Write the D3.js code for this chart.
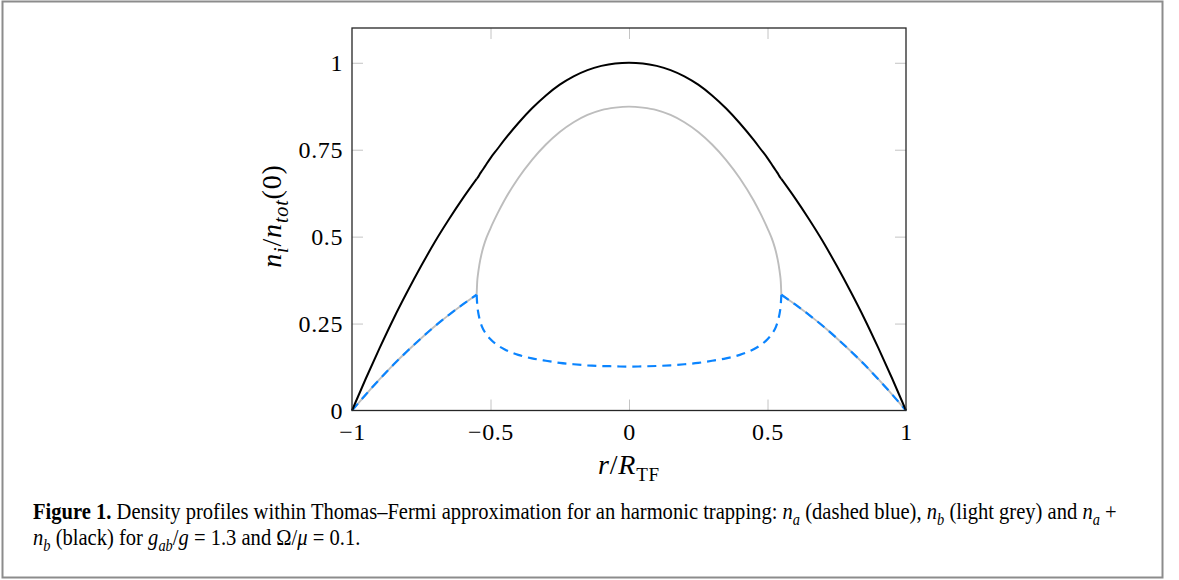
<!DOCTYPE html>
<html>
<head>
<meta charset="utf-8">
<script src="https://cdn.jsdelivr.net/npm/d3@7"></script>
<style>
  body { margin: 0; background: #fff; }
  svg { display: block; }
</style>
</head>
<body>
<svg id="fig" width="1179" height="580"></svg>
<script>
// Radial coordinate r / R_TF, shared by all three density profiles
const r = [
  -1, -0.95, -0.9, -0.85, -0.8, -0.75, -0.7, -0.65, -0.6, -0.55,
  -0.548, -0.545, -0.54, -0.53, -0.52, -0.5, -0.475, -0.45, -0.4, -0.35,
  -0.3, -0.25, -0.2, -0.15, -0.1, -0.05, 0,
  0.05, 0.1, 0.15, 0.2, 0.25, 0.3, 0.35, 0.4, 0.45, 0.475,
  0.5, 0.52, 0.53, 0.54, 0.545, 0.548, 0.55,
  0.6, 0.65, 0.7, 0.75, 0.8, 0.85, 0.9, 0.95, 1
];

// n_a / n_tot(0)  (dashed blue)
const nA = [
  0, 0.046, 0.090, 0.132, 0.171, 0.208, 0.243, 0.275, 0.305, 0.333,
  0.305, 0.285, 0.265, 0.240, 0.225, 0.205, 0.188, 0.176, 0.160, 0.150,
  0.143, 0.137, 0.133, 0.130, 0.128, 0.127, 0.126,
  0.127, 0.128, 0.130, 0.133, 0.137, 0.143, 0.150, 0.160, 0.176, 0.188,
  0.205, 0.225, 0.240, 0.265, 0.285, 0.305, 0.333,
  0.305, 0.275, 0.243, 0.208, 0.171, 0.132, 0.090, 0.046, 0
];

// n_b / n_tot(0)  (light grey)
const nB = [
  0, 0.046, 0.090, 0.132, 0.171, 0.208, 0.243, 0.275, 0.305, 0.333,
  0.370, 0.393, 0.420, 0.458, 0.485, 0.524, 0.566, 0.604, 0.668, 0.721,
  0.765, 0.801, 0.829, 0.850, 0.864, 0.871, 0.874,
  0.871, 0.864, 0.850, 0.829, 0.801, 0.765, 0.721, 0.668, 0.604, 0.566,
  0.524, 0.485, 0.458, 0.420, 0.393, 0.370, 0.333,
  0.305, 0.275, 0.243, 0.208, 0.171, 0.132, 0.090, 0.046, 0
];

// (n_a + n_b) / n_tot(0)  (black)
const nTot = [
  0, 0.092, 0.180, 0.264, 0.342, 0.416, 0.486, 0.550, 0.610, 0.666,
  0.668, 0.671, 0.678, 0.690, 0.702, 0.726, 0.752, 0.778, 0.826, 0.869,
  0.906, 0.937, 0.961, 0.979, 0.991, 0.998, 1.000,
  0.998, 0.991, 0.979, 0.961, 0.937, 0.906, 0.869, 0.826, 0.778, 0.752,
  0.726, 0.702, 0.690, 0.678, 0.671, 0.668, 0.666,
  0.610, 0.550, 0.486, 0.416, 0.342, 0.264, 0.180, 0.092, 0
];

// Phase boundary where the profiles change branch
const rBoundary = 0.55;

const xTicks = [-1, -0.5, 0, 0.5, 1];
const xTickLabels = ["\u22121", "\u22120.5", "0", "0.5", "1"];
const yTicks = [0, 0.25, 0.5, 0.75, 1];
const yTickLabels = ["0", "0.25", "0.5", "0.75", "1"];

const svg = d3.select("#fig");
const serif = "'Liberation Serif', 'Times New Roman', serif";

// Page border around figure and caption
svg.append("rect")
  .attr("x", 2.5).attr("y", 1.5)
  .attr("width", 1160).attr("height", 576)
  .attr("fill", "none").attr("stroke", "#8c8c8c").attr("stroke-width", 2);

const x = d3.scaleLinear().domain([-1, 1]).range([352, 906]);
const y = d3.scaleLinear().domain([0, 1.1]).range([410.5, 28]);
const [x0, x1] = x.range();
const [yb, yt] = y.range();

// Inward grey ticks on all four sides
const tickLen = 11;
const innerX = xTicks.filter(d => d > -1 && d < 1);
const innerY = yTicks.filter(d => d > 0);
function tickAxis(axis, tx, ty) {
  const g = svg.append("g").attr("transform", `translate(${tx},${ty})`)
    .call(axis.tickSize(tickLen).tickFormat(""));
  g.select(".domain").remove();
  g.selectAll(".tick line").attr("stroke", "#c4c4c4").attr("stroke-width", 1);
}
tickAxis(d3.axisTop(x).tickValues(innerX), 0, yb);
tickAxis(d3.axisBottom(x).tickValues(innerX), 0, yt);
tickAxis(d3.axisRight(y).tickValues(innerY), x0, 0);
tickAxis(d3.axisLeft(y).tickValues(innerY), x1, 0);

// Tick labels
const gxl = svg.append("g").attr("transform", `translate(0,${yb})`)
  .call(d3.axisBottom(x).tickValues(xTicks).tickSize(0).tickPadding(12)
    .tickFormat((d, i) => xTickLabels[i]));
gxl.select(".domain").remove();
gxl.selectAll("text").attr("font-family", serif).attr("font-size", 24)
  .attr("letter-spacing", 0.6).attr("fill", "#000");

const gyl = svg.append("g").attr("transform", `translate(${x0},0)`)
  .call(d3.axisLeft(y).tickValues(yTicks).tickSize(0).tickPadding(9)
    .tickFormat((d, i) => yTickLabels[i]));
gyl.select(".domain").remove();
gyl.selectAll("text").attr("font-family", serif).attr("font-size", 24)
  .attr("letter-spacing", 0.6).attr("fill", "#000");

// Profiles, drawn per branch so the kinks at the phase boundary stay sharp
const rows = r.map((d, i) => ({ r: d, a: nA[i], b: nB[i], t: nTot[i] }));
const branches = [
  rows.filter(d => d.r <= -rBoundary),
  rows.filter(d => d.r >= -rBoundary && d.r <= rBoundary),
  rows.filter(d => d.r >= rBoundary)
];
function drawProfile(key, color, width, dash) {
  const line = d3.line().x(d => x(d.r)).y(d => y(d[key])).curve(d3.curveMonotoneX);
  branches.forEach(br => {
    svg.append("path").datum(br)
      .attr("d", line)
      .attr("fill", "none")
      .attr("stroke", color)
      .attr("stroke-width", width)
      .attr("stroke-linejoin", "round")
      .attr("stroke-dasharray", dash || null);
  });
}
drawProfile("b", "#bdbdbd", 1.9);
drawProfile("a", "#0a84ff", 2.2, "9,6");
drawProfile("t", "#000", 2);

// Plot frame
svg.append("rect")
  .attr("x", x0).attr("y", yt)
  .attr("width", x1 - x0).attr("height", yb - yt)
  .attr("fill", "none").attr("stroke", "#262626").attr("stroke-width", 1.3);

// Rich text helper: parts are [text, style] with style among "", "b", "i", "sub", "isub"
function richText(g, parts, size, subScale) {
  const ss = subScale || 0.7;
  const t = g.append("text").attr("font-family", serif).attr("font-size", size).attr("fill", "#000");
  let shifted = 0;
  parts.forEach(([txt, st]) => {
    const s = t.append("tspan").text(txt);
    const isSub = st === "sub" || st === "isub";
    if (st === "b") s.attr("font-weight", "bold");
    if (st === "i" || st === "isub") s.attr("font-style", "italic");
    const target = isSub ? size * 0.25 : 0;
    if (target !== shifted) { s.attr("dy", target - shifted); shifted = target; }
    if (isSub) s.attr("font-size", size * ss);
  });
  return t;
}

// Axis titles
const ylab = svg.append("g").attr("transform", "translate(281,216) rotate(-90)");
richText(ylab, [["n", "i"], ["i", "isub"], ["/", ""], ["n", "i"], ["tot", "isub"], ["(0)", ""]], 28, 0.72)
  .attr("text-anchor", "middle").attr("letter-spacing", 0.8);

const xlab = svg.append("g").attr("transform", "translate(629,474)");
richText(xlab, [["r", "i"], ["/", ""], ["R", "i"], ["TF", "sub"]], 28, 0.68)
  .attr("text-anchor", "middle").attr("letter-spacing", 0.8);

// Caption
const cap = svg.append("g");
const line1 = richText(cap, [
  ["Figure 1.", "b"],
  [" Density profiles within Thomas\u2013Fermi approximation for an harmonic trapping: ", ""],
  ["n", "i"], ["a", "isub"], [" (dashed blue), ", ""],
  ["n", "i"], ["b", "isub"], [" (light grey) and ", ""],
  ["n", "i"], ["a", "isub"], [" +", ""]
], 22.5).attr("y", 0);
richText(cap, [
  ["n", "i"], ["b", "isub"], [" (black) for ", ""],
  ["g", "i"], ["ab", "isub"], ["/", ""], ["g", "i"],
  [" = 1.3 and \u03A9/", ""], ["\u03BC", "i"], [" = 0.1.", ""]
], 22.5).attr("y", 26);
const natural = line1.node().getComputedTextLength();
const sx = (1117 - 33) / natural;
cap.attr("transform", `translate(33,519) scale(${sx},1)`);
</script>
</body>
</html>
